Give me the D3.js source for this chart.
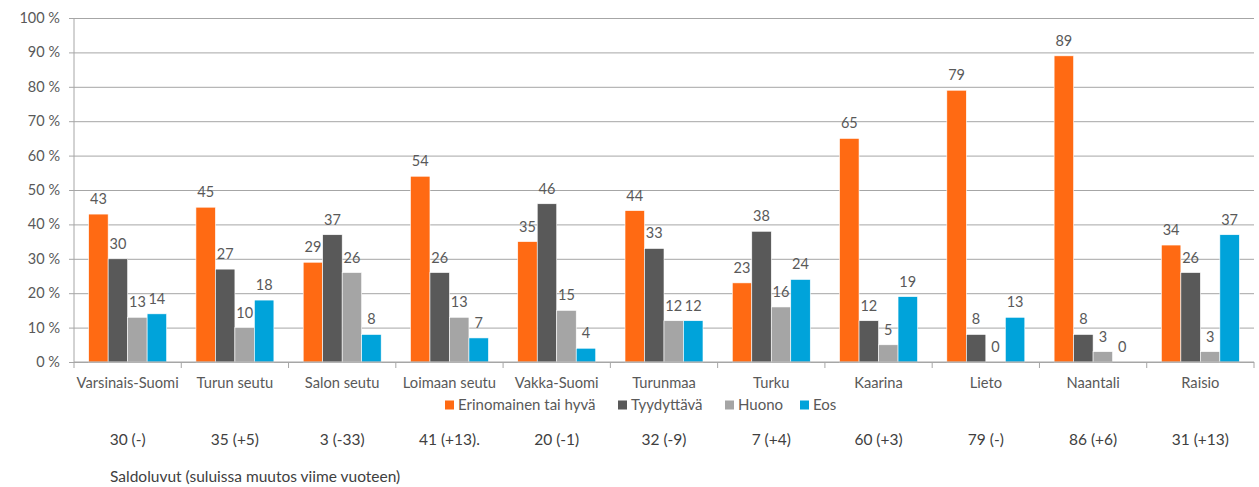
<!DOCTYPE html>
<html lang="fi">
<head>
<meta charset="utf-8">
<title>Saldoluvut</title>
<script src="https://cdn.jsdelivr.net/npm/d3@7"></script>
<style>
  body { margin: 0; background: #fff; }
  svg text { font-family: Lato, "Open Sans", sans-serif; fill: #595959; }
  .grid line { stroke: #a6a6a6; stroke-width: 1; }
  .grid path { display: none; }
</style>
</head>
<body>
<svg width="1259" height="487"></svg>
<script>
var categories = ["Varsinais-Suomi", "Turun seutu", "Salon seutu", "Loimaan seutu", "Vakka-Suomi",
                  "Turunmaa", "Turku", "Kaarina", "Lieto", "Naantali", "Raisio"];
var seriesNames = ["Erinomainen tai hyvä", "Tyydyttävä", "Huono", "Eos"];
var hyva       = [43, 45, 29, 54, 35, 44, 23, 65, 79, 89, 34];
var tyydyttava = [30, 27, 37, 26, 46, 33, 38, 12, 8, 8, 26];
var huono      = [13, 10, 26, 13, 15, 12, 16, 5, 0, 3, 3];
var eos        = [14, 18, 8, 7, 4, 12, 24, 19, 13, 0, 37];
var saldo = ["30 (-)", "35 (+5)", "3 (-33)", "41 (+13).", "20 (-1)", "32 (-9)", "7 (+4)",
             "60 (+3)", "79 (-)", "86 (+6)", "31 (+13)"];
var yTicks = [0, 10, 20, 30, 40, 50, 60, 70, 80, 90, 100];
var colors = ["#ff6a13", "#595959", "#a5a5a5", "#00a3da"];
var series = [hyva, tyydyttava, huono, eos];

var svg = d3.select("svg"),
    margin = {top: 18, right: 5, bottom: 125, left: 74},
    width = 1254 - margin.left,
    height = 362 - margin.top;

var x = d3.scaleBand().domain(categories).range([0, width]);
// bars fill 78 of each 107 px band, equal gaps each side
var x1 = d3.scaleBand().domain(d3.range(4)).range([14.65, x.bandwidth() - 14.65]);
var y = d3.scaleLinear().domain([0, 100]).range([height, 0]);

var g = svg.append("g").attr("transform", "translate(" + margin.left + "," + margin.top + ")");

// gridlines
g.append("g").attr("class", "grid")
  .call(d3.axisLeft(y).tickValues(yTicks).tickSize(-width).tickFormat(""))
  .selectAll("line").attr("x1", -5);

// y tick labels
g.selectAll(".ylab").data(yTicks).enter().append("text")
  .attr("x", -14).attr("y", function(d) { return y(d); })
  .attr("dy", "0.35em").attr("text-anchor", "end")
  .style("font-size", "14.5px")
  .text(function(d) { return d + " %"; });

// left axis line
g.append("line").attr("x1", 0).attr("x2", 0).attr("y1", 0).attr("y2", height)
  .attr("stroke", "#a6a6a6");

// bars
var groups = g.selectAll(".grp").data(categories).enter().append("g")
  .attr("transform", function(d) { return "translate(" + x(d) + ",0)"; });

groups.each(function(c, ci) {
  var gg = d3.select(this);
  series.forEach(function(s, si) {
    var v = s[ci];
    gg.append("rect")
      .attr("x", x1(si)).attr("width", x1.bandwidth())
      .attr("y", y(v)).attr("height", height - y(v))
      .attr("fill", colors[si])
      .attr("stroke", "#fff").attr("stroke-width", 0.6);
    gg.append("text")
      .attr("x", x1(si) + x1.bandwidth() / 2)
      .attr("y", y(v) - 10)
      .attr("text-anchor", "middle")
      .style("font-size", "14.5px")
      .text(v);
  });
});

// x axis line and ticks
g.append("line").attr("x1", 0).attr("x2", width).attr("y1", height).attr("y2", height)
  .attr("stroke", "#a6a6a6");
g.selectAll(".xt").data(d3.range(categories.length + 1)).enter().append("line")
  .attr("x1", function(i) { return i * x.bandwidth(); })
  .attr("x2", function(i) { return i * x.bandwidth(); })
  .attr("y1", height).attr("y2", height + 6)
  .attr("stroke", "#a6a6a6");

// category labels
g.selectAll(".xlab").data(categories).enter().append("text")
  .attr("x", function(d) { return x(d) + x.bandwidth() / 2; })
  .attr("y", height + 21)
  .attr("dy", "0.35em")
  .attr("text-anchor", "middle")
  .style("font-size", "14.7px")
  .text(function(d) { return d; });

// legend
var legX = [445, 618, 725, 800];
var leg = svg.selectAll(".leg").data(seriesNames).enter().append("g")
  .attr("transform", function(d, i) { return "translate(" + legX[i] + ",405)"; });
leg.append("rect").attr("x", 0).attr("y", -4.5).attr("width", 9).attr("height", 9)
  .attr("fill", function(d, i) { return colors[i]; });
leg.append("text").attr("x", 13).attr("dy", "0.35em")
  .style("font-size", "15px")
  .text(function(d) { return d; });

// saldoluvut row
g.selectAll(".saldo").data(saldo).enter().append("text")
  .attr("x", function(d, i) { return x(categories[i]) + x.bandwidth() / 2; })
  .attr("y", 440 - margin.top)
  .attr("dy", "0.35em")
  .attr("text-anchor", "middle")
  .style("font-size", "15.5px")
  .style("fill", "#404040")
  .text(function(d) { return d; });

svg.append("text").attr("x", 110).attr("y", 477).attr("dy", "0.35em")
  .style("font-size", "15.5px").style("fill", "#404040")
  .text("Saldoluvut (suluissa muutos viime vuoteen)");
</script>
</body>
</html>
